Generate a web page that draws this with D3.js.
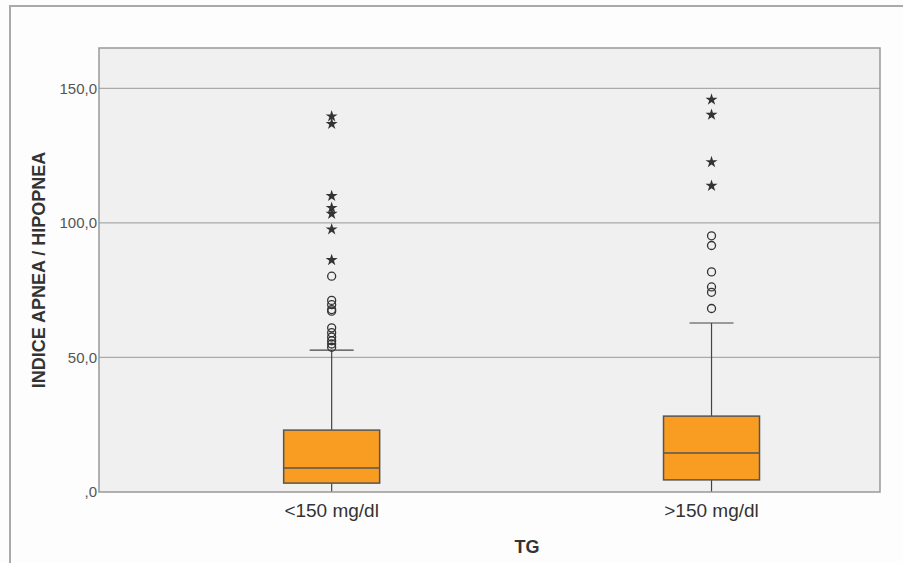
<!DOCTYPE html>
<html>
<head>
<meta charset="utf-8">
<script src="https://cdn.jsdelivr.net/npm/d3@7"></script>
<style>
  body { margin: 0; background: #fdfdfd; }
  svg text { font-family: "Liberation Sans", Arial, Helvetica, sans-serif; }
</style>
</head>
<body>
<div id="chart"></div>
<script>
// data
const categories = ["<150 mg/dl", ">150 mg/dl"];
const whiskerLow = [0, 0];
const q1 = [3.3, 4.5];
const median = [8.9, 14.5];
const q3 = [23.0, 28.2];
const whiskerHigh = [52.7, 62.8];
const circles1 = [80.2, 71.2, 69.6, 67.8, 67.2, 61.0, 59.2, 57.6, 56.2, 55.0, 53.8];
const stars1 = [139.6, 136.8, 110.0, 105.6, 103.4, 97.6, 86.2];
const circles2 = [95.2, 91.6, 81.8, 76.2, 74.2, 68.2];
const stars2 = [145.8, 140.2, 122.6, 113.8];
const yTicks = [0, 50, 100, 150];

const width = 903, height = 563;
const margin = {top: 48, right: 23, bottom: 71, left: 99};
const innerW = width - margin.left - margin.right;
const innerH = height - margin.top - margin.bottom;

const svg = d3.select('#chart').append('svg')
    .attr('width', width)
    .attr('height', height);

// outer frame (top and left edges)
svg.append('path')
    .attr('d', `M10,${height} V6 H${width}`)
    .attr('fill', 'none')
    .attr('stroke', '#aaa')
    .attr('stroke-width', 2);

const chart = svg.append('g')
    .attr('transform', `translate(${margin.left},${margin.top})`);

const scaleY = d3.scaleLinear().domain([0, 165]).range([innerH, 0]);
const scaleX = d3.scalePoint().domain(categories).range([0, innerW])
    .padding(0.528).align(0.58);

chart.append('rect')
    .attr('width', innerW).attr('height', innerH)
    .attr('fill', '#f0f0f0');

// grid lines
chart.selectAll('line.grid')
    .data(yTicks.filter(d => d > 0))
    .join('line')
    .classed('grid', true)
    .attr('x1', 0).attr('x2', innerW)
    .attr('y1', d => scaleY(d)).attr('y2', d => scaleY(d))
    .attr('stroke', '#aaa').attr('stroke-width', 1.2);

// y tick labels
const loc = d3.formatLocale({decimal: ',', thousands: '.', grouping: [3], currency: ['', '']});
const fmt = v => loc.format('.1f')(v).replace(/^0,/, ',');
chart.selectAll('text.ytick')
    .data(yTicks)
    .join('text')
    .classed('ytick', true)
    .attr('x', -2).attr('y', d => scaleY(d)).attr('dy', '0.35em')
    .attr('text-anchor', 'end')
    .attr('font-size', 15).attr('fill', '#555')
    .text(fmt);

const boxW = 96, capHalf = 22;
const boxes = categories.map((c, i) => ({
    c, lo: whiskerLow[i], q1: q1[i], med: median[i], q3: q3[i], hi: whiskerHigh[i],
    circles: i === 0 ? circles1 : circles2,
    stars: i === 0 ? stars1 : stars2
}));

const g = chart.selectAll('g.box').data(boxes).join('g')
    .classed('box', true)
    .attr('transform', d => `translate(${scaleX(d.c)},0)`);

// whiskers
g.append('line')
    .attr('y1', d => scaleY(d.q3)).attr('y2', d => scaleY(d.hi))
    .attr('stroke', '#444').attr('stroke-width', 1.2);
g.append('line')
    .attr('y1', d => scaleY(d.q1)).attr('y2', d => scaleY(d.lo))
    .attr('stroke', '#444').attr('stroke-width', 1.2);
g.append('line')
    .attr('x1', -capHalf).attr('x2', capHalf)
    .attr('y1', d => scaleY(d.hi)).attr('y2', d => scaleY(d.hi))
    .attr('stroke', '#444').attr('stroke-width', 1.2);

// box
g.append('rect')
    .attr('x', -boxW / 2).attr('width', boxW)
    .attr('y', d => scaleY(d.q3))
    .attr('height', d => scaleY(d.q1) - scaleY(d.q3))
    .attr('fill', '#f99c22').attr('stroke', '#555').attr('stroke-width', 1.5);
g.append('line')
    .attr('x1', -boxW / 2).attr('x2', boxW / 2)
    .attr('y1', d => scaleY(d.med)).attr('y2', d => scaleY(d.med))
    .attr('stroke', '#555').attr('stroke-width', 1.5);

// outliers
g.selectAll('circle.out').data(d => d.circles).join('circle')
    .classed('out', true)
    .attr('cy', d => scaleY(d)).attr('r', 4)
    .attr('fill', 'none').attr('stroke', '#333').attr('stroke-width', 1.3);
const star = d3.symbol().type(d3.symbolStar).size(45);
g.selectAll('path.ext').data(d => d.stars).join('path')
    .classed('ext', true)
    .attr('transform', d => `translate(0,${scaleY(d)})`)
    .attr('d', star)
    .attr('fill', '#333');

// plot border
chart.append('rect')
    .attr('width', innerW).attr('height', innerH)
    .attr('fill', 'none').attr('stroke', '#999').attr('stroke-width', 1.5);

// category labels
chart.selectAll('text.xtick').data(categories).join('text')
    .classed('xtick', true)
    .attr('x', d => scaleX(d)).attr('y', innerH + 25)
    .attr('text-anchor', 'middle')
    .attr('font-size', 19).attr('fill', '#333')
    .text(d => d);

// axis titles
svg.append('text')
    .attr('x', 527).attr('y', 553)
    .attr('text-anchor', 'middle')
    .attr('font-size', 18).attr('font-weight', 'bold').attr('fill', '#333')
    .text('TG');
svg.append('text')
    .attr('transform', `translate(45,${margin.top + innerH / 2})rotate(-90)`)
    .attr('text-anchor', 'middle')
    .attr('font-size', 18).attr('font-weight', 'bold').attr('fill', '#333')
    .text('INDICE APNEA / HIPOPNEA');
</script>
</body>
</html>
